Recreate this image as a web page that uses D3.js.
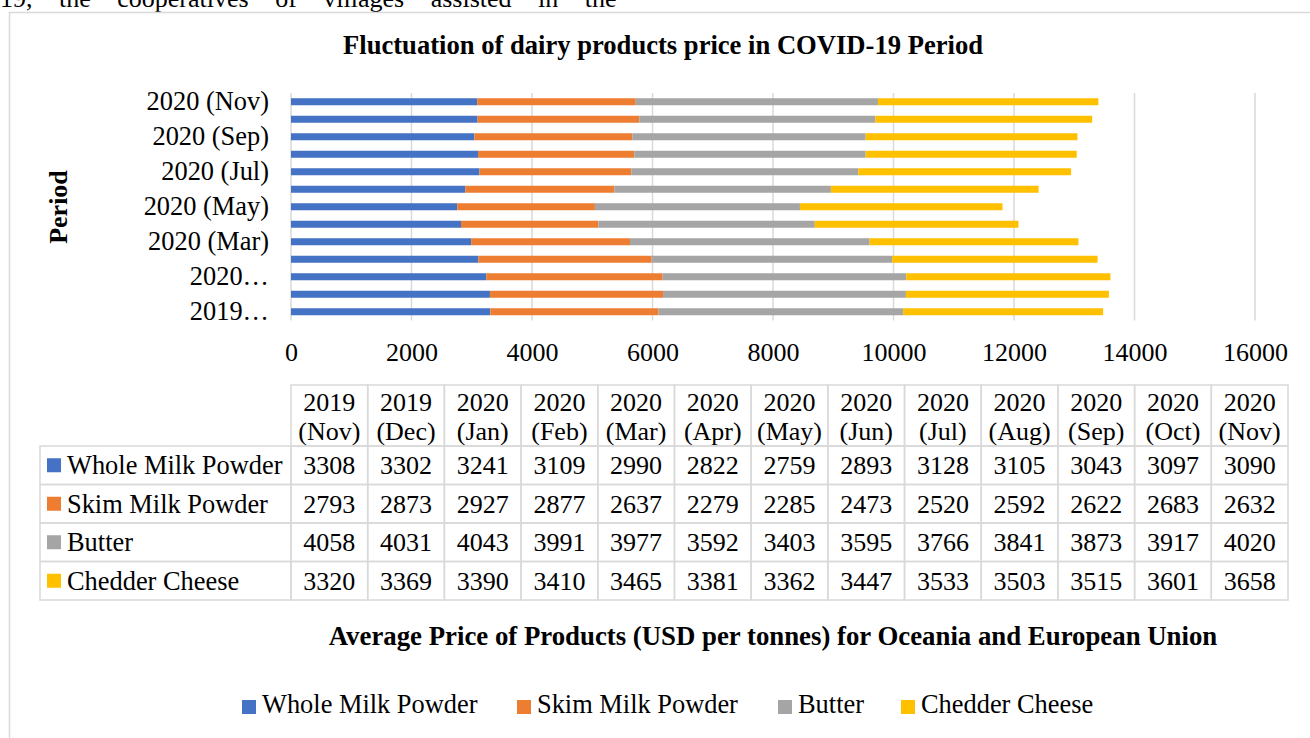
<!DOCTYPE html>
<html lang="en">
<head>
<meta charset="UTF-8">
<title>Fluctuation of dairy products price in COVID-19 Period</title>
<script src="https://d3js.org/d3.v7.min.js"></script>
<style>
    body { margin: 0; background: #fff; overflow: hidden; }
    svg text { font-family: "Liberation Serif", "Times New Roman", serif; fill: #000; }
</style>
</head>
<body>
<script>
// Data
const periods = ["2019 (Nov)", "2019 (Dec)", "2020 (Jan)", "2020 (Feb)", "2020 (Mar)", "2020 (Apr)", "2020 (May)",
    "2020 (Jun)", "2020 (Jul)", "2020 (Aug)", "2020 (Sep)", "2020 (Oct)", "2020 (Nov)"];
const products = ["Whole Milk Powder", "Skim Milk Powder", "Butter", "Chedder Cheese"];
const wholeMilk = [3308, 3302, 3241, 3109, 2990, 2822, 2759, 2893, 3128, 3105, 3043, 3097, 3090];
const skimMilk = [2793, 2873, 2927, 2877, 2637, 2279, 2285, 2473, 2520, 2592, 2622, 2683, 2632];
const butter = [4058, 4031, 4043, 3991, 3977, 3592, 3403, 3595, 3766, 3841, 3873, 3917, 4020];
const cheese = [3320, 3369, 3390, 3410, 3465, 3381, 3362, 3447, 3533, 3503, 3515, 3601, 3658];
const colors = ["#4472C4", "#ED7D31", "#A5A5A5", "#FFC000"];
// category labels as shown on the axis (every second one, some cut short)
const yTickLabels = { "2019 (Nov)": "2019…", "2020 (Jan)": "2020…", "2020 (Mar)": "2020 (Mar)",
    "2020 (May)": "2020 (May)", "2020 (Jul)": "2020 (Jul)", "2020 (Sep)": "2020 (Sep)", "2020 (Nov)": "2020 (Nov)" };
const xTicks = [0, 2000, 4000, 6000, 8000, 10000, 12000, 14000, 16000];

const seriesValues = [wholeMilk, skimMilk, butter, cheese];
const rows = periods.map((p, i) => {
    const r = { period: p };
    products.forEach((k, j) => r[k] = seriesValues[j][i]);
    return r;
});

const width = 1310, height = 738;
const svg = d3.select("body").append("svg").attr("width", width).attr("height", height);

// bit of the document text above the figure, cut by the page edge
svg.append("text")
    .attr("x", 0).attr("y", 7)
    .attr("font-size", 26)
    .style("word-spacing", "20px")
    .text("19, the cooperatives of villages assisted in the");

// chart frame
svg.append("rect")
    .attr("x", 9.5).attr("y", 12.5)
    .attr("width", 1320).attr("height", 740)
    .attr("fill", "none").attr("stroke", "#d9d9d9").attr("stroke-width", 1.5);

// title
svg.append("text")
    .attr("x", 663).attr("y", 54)
    .attr("text-anchor", "middle").attr("font-size", 26.6).attr("font-weight", "bold")
    .text("Fluctuation of dairy products price in COVID-19 Period");

// scales
const x = d3.scaleLinear().domain([0, 16000]).range([291, 1255]);
const y = d3.scaleBand().domain(periods).range([320.5, 93]).paddingInner(0.6).paddingOuter(0.3);

// gridlines
svg.append("g")
    .selectAll("line")
    .data(xTicks)
    .join("line")
    .attr("x1", d => x(d)).attr("x2", d => x(d))
    .attr("y1", 93).attr("y2", 320.5)
    .attr("stroke", "#d9d9d9").attr("stroke-width", 1.5);

// stacked bars
const stack = d3.stack().keys(products);
const layers = stack(rows);
svg.append("g")
    .selectAll("g")
    .data(layers)
    .join("g")
    .attr("fill", (d, i) => colors[i])
    .selectAll("rect")
    .data(d => d)
    .join("rect")
    .attr("x", d => x(d[0]))
    .attr("width", d => x(d[1]) - x(d[0]))
    .attr("y", d => y(d.data.period))
    .attr("height", y.bandwidth());

// x axis labels
const xAxis = svg.append("g")
    .attr("transform", "translate(0,361)")
    .call(d3.axisBottom(x).tickValues(xTicks).tickSize(0).tickPadding(0).tickFormat(d3.format("d")));
xAxis.select(".domain").remove();
xAxis.selectAll("text")
    .attr("y", 0).attr("dy", 0)
    .attr("font-size", 26)
    .attr("fill", "#000");

// y axis labels
const yAxis = svg.append("g")
    .attr("transform", "translate(269,0)")
    .call(d3.axisLeft(y)
        .tickValues(periods.filter(p => yTickLabels[p]))
        .tickFormat(p => yTickLabels[p])
        .tickSize(0).tickPadding(0));
yAxis.select(".domain").remove();
yAxis.selectAll("text")
    .attr("dy", "0.32em")
    .attr("font-size", 26.4)
    .attr("fill", "#000");

// y axis title
svg.append("text")
    .attr("transform", "translate(67,207) rotate(-90)")
    .attr("text-anchor", "middle").attr("font-size", 26).attr("font-weight", "bold")
    .text("Period");

// data table
const col = d3.scaleBand().domain(periods).range([291, 1288]);
const headTop = 385, headBottom = 446, rowH = 38.5;
const rowY = d3.scaleBand().domain(products).range([headBottom, headBottom + rowH * products.length]);
const table = svg.append("g");
const gridColor = "#d9d9d9";

// header cells
const head = table.selectAll("g.head")
    .data(periods)
    .join("g").attr("class", "head");
head.append("rect")
    .attr("x", d => col(d)).attr("y", headTop)
    .attr("width", col.bandwidth()).attr("height", headBottom - headTop)
    .attr("fill", "none").attr("stroke", gridColor).attr("stroke-width", 1.5);
head.append("text")
    .attr("x", d => col(d) + col.bandwidth() / 2).attr("y", 411)
    .attr("text-anchor", "middle").attr("font-size", 26)
    .text(d => d.split(" ")[0]);
head.append("text")
    .attr("x", d => col(d) + col.bandwidth() / 2).attr("y", 440)
    .attr("text-anchor", "middle").attr("font-size", 26)
    .text(d => d.split(" ")[1]);

// body rows
products.forEach((prod, j) => {
    const g = table.append("g");
    g.append("rect")
        .attr("x", 40).attr("y", rowY(prod))
        .attr("width", 291 - 40).attr("height", rowH)
        .attr("fill", "none").attr("stroke", gridColor).attr("stroke-width", 1.5);
    g.append("rect")
        .attr("x", 47).attr("y", rowY(prod) + rowH / 2 - 7)
        .attr("width", 14).attr("height", 14)
        .attr("fill", colors[j]);
    g.append("text")
        .attr("x", 67).attr("y", rowY(prod) + rowH / 2 + 9)
        .attr("font-size", 26.4)
        .text(prod);
    g.selectAll("g.cell")
        .data(seriesValues[j].map((v, i) => ({ p: periods[i], v })))
        .join("g").attr("class", "cell")
        .call(c => c.append("rect")
            .attr("x", d => col(d.p)).attr("y", rowY(prod))
            .attr("width", col.bandwidth()).attr("height", rowH)
            .attr("fill", "none").attr("stroke", gridColor).attr("stroke-width", 1.5))
        .call(c => c.append("text")
            .attr("x", d => col(d.p) + col.bandwidth() / 2).attr("y", rowY(prod) + rowH / 2 + 9)
            .attr("text-anchor", "middle").attr("font-size", 26)
            .text(d => d.v));
});

// x axis title
svg.append("text")
    .attr("x", 773).attr("y", 645)
    .attr("text-anchor", "middle").attr("font-size", 26.8).attr("font-weight", "bold")
    .text("Average Price of Products (USD per tonnes) for Oceania and European Union");

// legend
const legendX = [242, 517, 778, 901];
const legend = svg.append("g")
    .selectAll("g")
    .data(products)
    .join("g")
    .attr("transform", (d, i) => `translate(${legendX[i]},700)`);
legend.append("rect")
    .attr("width", 14).attr("height", 14)
    .attr("fill", (d, i) => colors[i]);
legend.append("text")
    .attr("x", 20).attr("y", 13)
    .attr("font-size", 26.4)
    .text(d => d);
</script>
</body>
</html>
